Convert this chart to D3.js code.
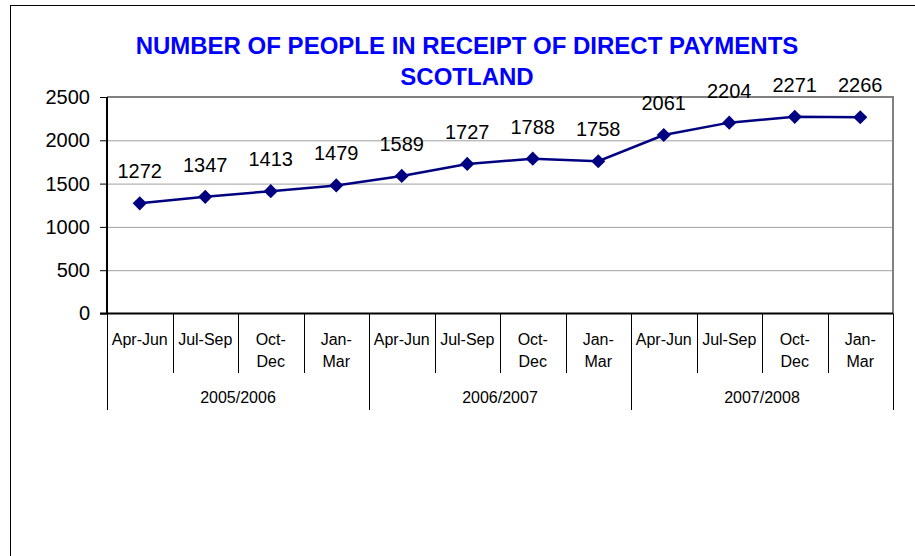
<!DOCTYPE html>
<html>
<head>
<meta charset="utf-8">
<script src="https://cdn.jsdelivr.net/npm/d3@7"></script>
<style>
    body { margin: 0; background: #fff; }
    svg { display: block; font-family: Arial, 'Liberation Sans', sans-serif; }
</style>
</head>
<body>
<svg id="chart" width="915" height="556"></svg>
<script>
const titleLines = ['NUMBER OF PEOPLE IN RECEIPT OF DIRECT PAYMENTS', 'SCOTLAND'];
const years = ['2005/2006', '2006/2007', '2007/2008'];
const quarters = ['Apr-Jun', 'Jul-Sep', 'Oct-Dec', 'Jan-Mar'];
// how excel wrapped each quarter label
const quarterLines = {
    'Apr-Jun': ['Apr-Jun'],
    'Jul-Sep': ['Jul-Sep'],
    'Oct-Dec': ['Oct-', 'Dec'],
    'Jan-Mar': ['Jan-', 'Mar']
};
const values = [1272, 1347, 1413, 1479, 1589, 1727, 1788, 1758, 2061, 2204, 2271, 2266];
const yTicks = [0, 500, 1000, 1500, 2000, 2500];

class QuarterLineChart {
    constructor(container) {
        this.svg = d3.select(container);

        this.params = {
            plot: { left: 107, right: 893, top: 97, bottom: 313.5 },
            quarterTickEnd: 373,
            yearTickEnd: 410,
            lineColor: '#000080',
            gridColor: '#a0a0a0'
        };

        this.categories = years.flatMap(year => quarters.map(q => ({ year, quarter: q, key: `${year} ${q}` })));
        this.data = this.categories.map((c, i) => ({ ...c, value: values[i] }));

        this.layout();
    }

    layout() {
        const p = this.params.plot;

        this.x = d3.scaleBand()
            .domain(this.categories.map(d => d.key))
            .range([p.left, p.right]);

        this.xYear = d3.scaleBand()
            .domain(years)
            .range([p.left, p.right]);

        this.y = d3.scaleLinear()
            .domain([0, 2500])
            .range([p.bottom, p.top]);
    }

    render() {
        this.renderFrame();
        this.renderTitle();
        this.renderGrid();
        this.renderXAxis();
        this.renderYAxis();
        this.renderLine();
    }

    renderFrame() {
        // only the top and left edges of the outer box are in the picture
        this.svg.append('rect')
            .attr('x', 10.5)
            .attr('y', 5.5)
            .attr('width', 950)
            .attr('height', 600)
            .attr('fill', 'none')
            .attr('stroke', '#000')
            .attr('stroke-width', 1);
    }

    renderTitle() {
        this.svg.selectAll('text.title')
            .data(titleLines)
            .enter()
            .append('text')
            .attr('class', 'title')
            .attr('x', 467)
            .attr('y', (d, i) => 54 + i * 31)
            .attr('text-anchor', 'middle')
            .attr('font-size', 24)
            .attr('font-weight', 'bold')
            .attr('fill', '#0000ff')
            .text(d => d);
    }

    renderGrid() {
        const p = this.params.plot;

        this.svg.append('g')
            .attr('class', 'grid')
            .attr('transform', `translate(${p.left},0)`)
            .call(d3.axisLeft(this.y).tickValues(yTicks.slice(1)).tickSize(-(p.right - p.left)).tickFormat(''))
            .call(g => g.select('.domain').remove())
            .selectAll('line')
            .attr('stroke', this.params.gridColor);

        // right edge of the plot area
        this.svg.append('line')
            .attr('x1', p.right)
            .attr('x2', p.right)
            .attr('y1', p.top)
            .attr('y2', p.bottom)
            .attr('stroke', '#808080')
            .attr('stroke-width', 2);

        this.svg.append('line')
            .attr('x1', p.left)
            .attr('x2', p.right + 1)
            .attr('y1', p.top)
            .attr('y2', p.top)
            .attr('stroke', '#808080')
            .attr('stroke-width', 2);
    }

    renderYAxis() {
        const p = this.params.plot;

        const axis = this.svg.append('g')
            .attr('class', 'y-axis')
            .attr('transform', `translate(${p.left},0)`)
            .call(d3.axisLeft(this.y).tickValues(yTicks).tickSize(7).tickPadding(10).tickFormat(d3.format('d')));

        axis.select('.domain')
            .attr('stroke', '#000')
            .attr('stroke-width', 2)
            .attr('d', `M0,${p.top}V${p.bottom}`);

        axis.selectAll('line').attr('stroke', '#000');
        axis.selectAll('text')
            .attr('font-size', 20)
            .attr('fill', '#000')
            .attr('font-family', 'Arial, Liberation Sans, sans-serif');
    }

    renderXAxis() {
        const p = this.params.plot;
        const g = this.svg.append('g').attr('class', 'x-axis');
        const step = this.x.step();

        g.append('line')
            .attr('x1', p.left - 7)
            .attr('x2', p.right)
            .attr('y1', p.bottom)
            .attr('y2', p.bottom)
            .attr('stroke', '#000')
            .attr('stroke-width', 2);

        // separators between quarters and between years
        const edges = this.categories.map(d => this.x(d.key)).concat([p.right]);

        g.selectAll('line.sep')
            .data(edges)
            .enter()
            .append('line')
            .attr('class', 'sep')
            .attr('x1', d => Math.round(d) + 0.5)
            .attr('x2', d => Math.round(d) + 0.5)
            .attr('y1', p.bottom)
            .attr('y2', (d, i) => i % quarters.length === 0 ? this.params.yearTickEnd : this.params.quarterTickEnd)
            .attr('stroke', '#000')
            .attr('stroke-width', 1);

        g.selectAll('text.quarter')
            .data(this.categories)
            .enter()
            .append('text')
            .attr('class', 'quarter')
            .attr('x', d => this.x(d.key) + step / 2)
            .attr('y', 345)
            .attr('text-anchor', 'middle')
            .attr('font-size', 16)
            .selectAll('tspan')
            .data(d => quarterLines[d.quarter].map(t => ({ t, x: this.x(d.key) + step / 2 })))
            .enter()
            .append('tspan')
            .attr('x', d => d.x)
            .attr('dy', (d, i) => i === 0 ? 0 : 22)
            .text(d => d.t);

        g.selectAll('text.year')
            .data(years)
            .enter()
            .append('text')
            .attr('class', 'year')
            .attr('x', d => this.xYear(d) + this.xYear.bandwidth() / 2)
            .attr('y', 403)
            .attr('text-anchor', 'middle')
            .attr('font-size', 16)
            .text(d => d);
    }

    renderLine() {
        const cx = d => this.x(d.key) + this.x.bandwidth() / 2;
        const line = d3.line()
            .x(cx)
            .y(d => this.y(d.value));

        this.svg.append('path')
            .datum(this.data)
            .attr('d', line)
            .attr('fill', 'none')
            .attr('stroke', this.params.lineColor)
            .attr('stroke-width', 2.5);

        const diamond = d3.symbol().type(d3.symbolSquare).size(100);

        this.svg.selectAll('path.marker')
            .data(this.data)
            .enter()
            .append('path')
            .attr('class', 'marker')
            .attr('d', diamond)
            .attr('transform', d => `translate(${cx(d)},${this.y(d.value)}) rotate(45)`)
            .attr('fill', this.params.lineColor);

        this.svg.selectAll('text.value')
            .data(this.data)
            .enter()
            .append('text')
            .attr('class', 'value')
            .attr('x', cx)
            .attr('y', d => this.y(d.value) - 25)
            .attr('text-anchor', 'middle')
            .attr('font-size', 20)
            .text(d => d.value);
    }
}

const chart = new QuarterLineChart('#chart');
chart.render();
</script>
</body>
</html>
